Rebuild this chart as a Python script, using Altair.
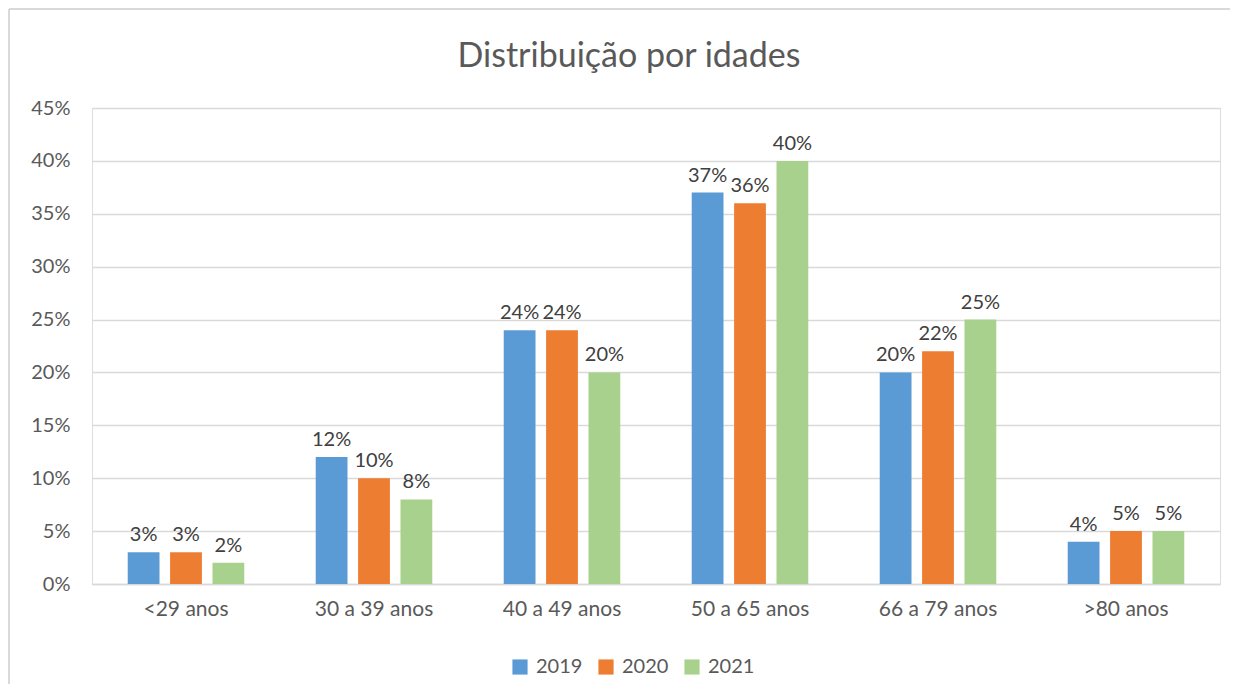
import altair as alt
import pandas as pd

categories = ["<29 anos", "30 a 39 anos", "40 a 49 anos", "50 a 65 anos", "66 a 79 anos", ">80 anos"]
years = ["2019", "2020", "2021"]
v2019 = [0.03, 0.12, 0.24, 0.37, 0.20, 0.04]
v2020 = [0.03, 0.10, 0.24, 0.36, 0.22, 0.05]
v2021 = [0.02, 0.08, 0.20, 0.40, 0.25, 0.05]
colors = ["#5B9BD5", "#ED7D31", "#A9D18E"]

rows = []
for y, vals in zip(years, [v2019, v2020, v2021]):
    for c, v in zip(categories, vals):
        rows.append({"cat": c, "year": y, "value": v})
df = pd.DataFrame(rows)

FONT = "Lato"
x = alt.X("cat:N", sort=categories, title=None,
          scale=alt.Scale(paddingInner=0.38, paddingOuter=0.19),
          axis=alt.Axis(labelAngle=0, labelFontSize=21, labelColor="#595959", labelFont=FONT,
                        domainColor="#D9D9D9", domainWidth=1.5, ticks=False, labelPadding=14))
xo = alt.XOffset("year:N", sort=years, scale=alt.Scale(paddingInner=0.25))
yenc = alt.Y("value:Q", title=None,
             scale=alt.Scale(domain=[0, 0.45], nice=False),
             axis=alt.Axis(format=".0%", values=[0, 0.05, 0.1, 0.15, 0.2, 0.25, 0.3, 0.35, 0.4, 0.45],
                           labelFontSize=20, labelColor="#595959", labelFont=FONT,
                           domain=False, ticks=False, gridColor="#D9D9D9", gridWidth=1.5,
                           labelPadding=22))
color = alt.Color("year:N", sort=years, scale=alt.Scale(domain=years, range=colors),
                  legend=alt.Legend(title=None, orient="none", legendX=418, legendY=549,
                                    direction="horizontal",
                                    symbolType="square", symbolSize=230, symbolStrokeWidth=0,
                                    labelFontSize=20, labelColor="#595959", labelFont=FONT,
                                    labelOffset=6, columnPadding=13))

bars = alt.Chart(df).mark_bar().encode(x=x, xOffset=xo, y=yenc, color=color)
labels = alt.Chart(df).mark_text(dy=-17, fontSize=20, color="#404040", font=FONT).encode(
    x=x, xOffset=xo, y=yenc, text=alt.Text("value:Q", format=".0%"))

border_left = alt.Chart(df).mark_rule(color="#D9D9D9", strokeWidth=2).encode(
    x=alt.value(-83), y=alt.value(-99), y2=alt.value(600))
border_top = alt.Chart(df).mark_rule(color="#D9D9D9", strokeWidth=2).encode(
    x=alt.value(-83), x2=alt.value(1150), y=alt.value(-99))

chart = alt.layer(border_left, border_top, bars, labels).properties(
    width=1128, height=476,
    title=alt.TitleParams("Distribuição por idades", fontSize=34, font=FONT, fontWeight="normal",
                          color="#595959", offset=0, dy=66, dx=-27),
    autosize=alt.AutoSizeParams(type="none"),
    padding={"left": 84, "top": 100, "right": 10, "bottom": 100},
).configure_view(stroke=None).configure(background="white")

chart.save("out.html", embed_options={"renderer": "svg", "actions": False})
